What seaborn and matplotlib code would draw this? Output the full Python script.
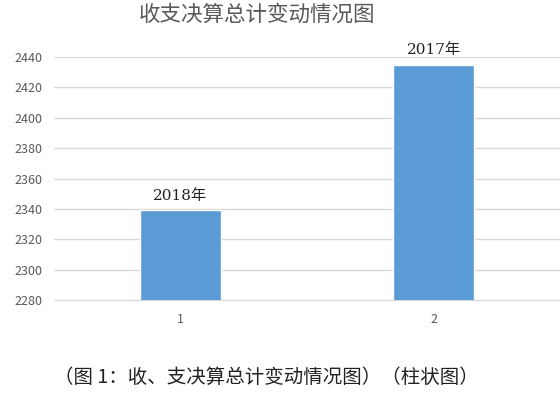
import matplotlib
matplotlib.use("Agg")
import matplotlib.pyplot as plt
import seaborn as sns
import pandas as pd

# data
categories = ["1", "2"]
values = [2339, 2434.5]
bar_labels = ["2018年", "2017年"]
y_ticks = [2280, 2300, 2320, 2340, 2360, 2380, 2400, 2420, 2440]

BAR_COLOR = "#5B9BD5"
GREY = "#595959"
CJK = ["Noto Sans CJK SC", "DejaVu Sans"]
SERIF_CJK = ["DejaVu Serif", "Noto Sans CJK SC"]

sns.set_style("white")
plt.rcParams["font.family"] = CJK

df = pd.DataFrame({"cat": categories, "val": values})

fig = plt.figure(figsize=(5.6, 3.99), dpi=100)
ax = fig.add_axes([54 / 560, 1 - 300.3 / 399, 506 / 560, 243.6 / 399])

sns.barplot(data=df, x="cat", y="val", color=BAR_COLOR, width=0.317,
            saturation=1, ax=ax, zorder=3)

ax.set_ylim(y_ticks[0], y_ticks[-1])
ax.set_xlim(-0.5, 1.5)
ax.set_yticks(y_ticks)
ax.yaxis.grid(True, color="#d9d9d9", linewidth=1)
ax.set_axisbelow(True)
for s in ["top", "right", "left"]:
    ax.spines[s].set_visible(False)
ax.spines["bottom"].set_color("#d9d9d9")
ax.tick_params(axis="both", length=0, labelsize=9, colors=GREY)
ax.tick_params(axis="y", pad=8)
ax.tick_params(axis="x", pad=9)
ax.set_xlabel("")
ax.set_ylabel("")

for i, (v, lab) in enumerate(zip(values, bar_labels)):
    ax.text(i, v + 5, lab, ha="center", va="bottom", fontsize=11,
            color="#222222", family=SERIF_CJK, clip_on=False)

fig.text(257 / 560, 1 - 15 / 399, "收支决算总计变动情况图", ha="center",
         va="center", fontsize=15.5, color=GREY)
fig.text(54 / 560, 1 - 377 / 399, "（图 1：收、支决算总计变动情况图）（柱状图）",
         ha="left", va="center", fontsize=14, color="#222222")

fig.savefig("out.png", dpi=100)
